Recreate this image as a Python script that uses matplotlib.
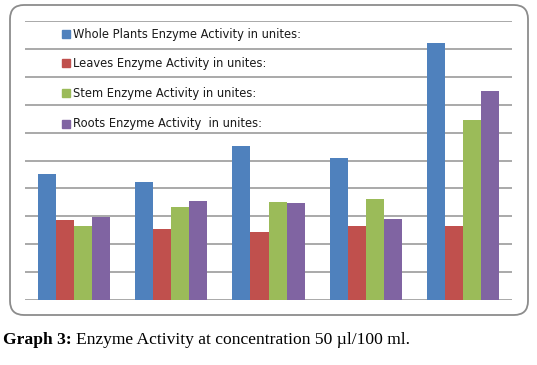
import numpy as np
import matplotlib
matplotlib.use("Agg")
import matplotlib.pyplot as plt
from matplotlib.patches import FancyBboxPatch, Rectangle

series = [
    "Whole Plants Enzyme Activity in unites:",
    "Leaves Enzyme Activity in unites:",
    "Stem Enzyme Activity in unites:",
    "Roots Enzyme Activity  in unites:",
]
whole = [4.50, 4.23, 5.52, 5.09, 9.21]
leaves = [2.87, 2.53, 2.45, 2.64, 2.64]
stem = [2.65, 3.33, 3.50, 3.61, 6.44]
roots = [2.97, 3.54, 3.47, 2.91, 7.48]
colors = ["#4F81BD", "#C0504D", "#9BBB59", "#8064A2"]

W, H = 537, 365
fig = plt.figure(figsize=(W / 100, H / 100), dpi=100)

# background frame in pixel coordinates
bg = fig.add_axes([0, 0, 1, 1])
bg.set_xlim(0, W)
bg.set_ylim(H, 0)
bg.axis("off")
bg.add_patch(FancyBboxPatch((10, 5), 518, 310,
                            boxstyle="round,pad=0,rounding_size=14",
                            fc="white", ec="#8c8c8c", lw=1.3))

ax = fig.add_axes([25 / W, 65 / H, 487 / W, 279 / H])
ax.patch.set_alpha(0)
ax.set_xlim(0, 5)
ax.set_ylim(0, 10)

x = np.arange(5) + 0.5
bw = 0.185
for k, vals in enumerate([whole, leaves, stem, roots]):
    ax.bar(x + (k - 1.5) * bw, vals, width=bw, color=colors[k],
           edgecolor="none", zorder=3)

for gy in np.arange(0, 11):
    ax.axhline(gy, color="#a9a9a9", lw=1.4, zorder=1)

for s in ax.spines.values():
    s.set_visible(False)
ax.set_xticks([])
ax.set_yticks([])

# legend rows
rows = [0.952, 0.848, 0.741, 0.631]
for k, lab in enumerate(series):
    ax.add_patch(Rectangle((0.077, rows[k] - 0.014), 0.016, 0.029,
                           transform=ax.transAxes, color=colors[k], zorder=4))
    ax.text(0.098, rows[k], lab, transform=ax.transAxes, fontsize=8.3,
            va="center", ha="left", color="#1a1a1a", zorder=4)

# caption
t1 = fig.text(3 / W, 1 - 344 / H, "Graph 3:", fontsize=12.6, fontweight="bold",
              family="Liberation Serif", va="baseline", ha="left")
fig.canvas.draw()
bb = t1.get_window_extent(fig.canvas.get_renderer())
fig.text((bb.x1 + 4) / W, 1 - 344 / H,
         "Enzyme Activity at concentration 50 \u00b5l/100 ml.",
         fontsize=12.6, family="Liberation Serif", va="baseline", ha="left")

fig.savefig("out.png", dpi=100)
